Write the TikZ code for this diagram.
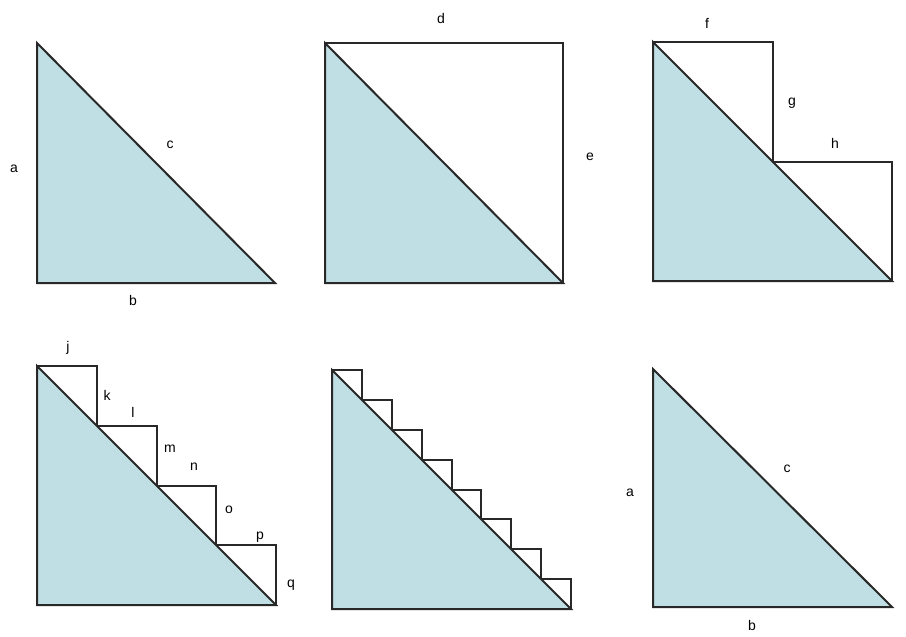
\documentclass[tikz,border=0pt]{standalone}
\usepackage{fontspec}
\setmainfont{Liberation Sans}
\usetikzlibrary{calc}
\definecolor{triblue}{RGB}{191,223,228}
\definecolor{edge}{RGB}{40,40,40}
\begin{document}
\begin{tikzpicture}[x=1pt, y=-1pt, line join=miter]
    \useasboundingbox (0,0) rectangle (906,637);
    \tikzset{
        tri/.style={fill=triblue, draw=edge, line width=2pt},
        edgeline/.style={draw=edge, line width=2pt},
        lbl/.style={font=\fontsize{14}{16}\selectfont, inner sep=0pt}
    }

    % --- Panel 1: triangulo ---
    \coordinate (A1) at (37,43);
    \coordinate (B1) at (37,283);
    \coordinate (C1) at (275,283);
    \draw[tri] (A1) -- (B1) -- (C1) -- cycle;
    \node[lbl] (a1) at (14,169) {a};
    \node[lbl] (c1) at (170,145) {c};
    \node[lbl] (b1) at (133,300) {b};

    % --- Panel 2: cuadrado ---
    \coordinate (A2) at (325,43);
    \coordinate (B2) at (325,283);
    \coordinate (C2) at (563,283);
    \coordinate (D2) at (563,43);
    \draw[tri] (A2) -- (B2) -- (C2) -- cycle;
    \draw[edgeline] (A2) -- (D2) -- (C2);
    \node[lbl] (d2) at (441,18) {d};
    \node[lbl] (e2) at (590,157) {e};

    % --- Panel 3: dos escalones ---
    \coordinate (A3) at (653,42);
    \coordinate (B3) at (653,281);
    \coordinate (C3) at (892,281);
    \draw[tri] (A3) -- (B3) -- (C3) -- cycle;
    \draw[edgeline] (A3) -- (773,42) -- (773,161.5) -- (892,161.5) -- (C3);
    \node[lbl] (f3) at (707,23) {f};
    \node[lbl] (g3) at (792,103) {g};
    \node[lbl] (h3) at (835,143) {h};

    % --- Panel 4: cuatro escalones ---
    \coordinate (A4) at (37,366);
    \coordinate (B4) at (37,605);
    \coordinate (C4) at (276,605);
    \draw[tri] (A4) -- (B4) -- (C4) -- cycle;
    \foreach \i in {0,...,3} {
        \draw[edgeline] ($(A4)+(\i*59.75,\i*59.75)$) -- ++(59.75,0) -- ++(0,59.75);
    }
    \node[lbl] (j4) at (68,348) {j};
    \node[lbl] (k4) at (107,395) {k};
    \node[lbl] (l4) at (133,412) {l};
    \node[lbl] (m4) at (170,449) {m};
    \node[lbl] (n4) at (194,467) {n};
    \node[lbl] (o4) at (229,510) {o};
    \node[lbl] (p4) at (260,537) {p};
    \node[lbl] (q4) at (291,585) {q};

    % --- Panel 5: ocho escalones ---
    \coordinate (A5) at (332,370);
    \coordinate (B5) at (332,609);
    \coordinate (C5) at (571,609);
    \draw[tri] (A5) -- (B5) -- (C5) -- cycle;
    \foreach \i in {0,...,7} {
        \draw[edgeline] ($(A5)+(\i*29.875,\i*29.875)$) -- ++(29.875,0) -- ++(0,29.875);
    }

    % --- Panel 6: triangulo ---
    \coordinate (A6) at (653,369);
    \coordinate (B6) at (653,607);
    \coordinate (C6) at (892,607);
    \draw[tri] (A6) -- (B6) -- (C6) -- cycle;
    \node[lbl] (a6) at (630,493) {a};
    \node[lbl] (c6) at (787,469) {c};
    \node[lbl] (b6) at (752,625) {b};

\end{tikzpicture}
\end{document}
